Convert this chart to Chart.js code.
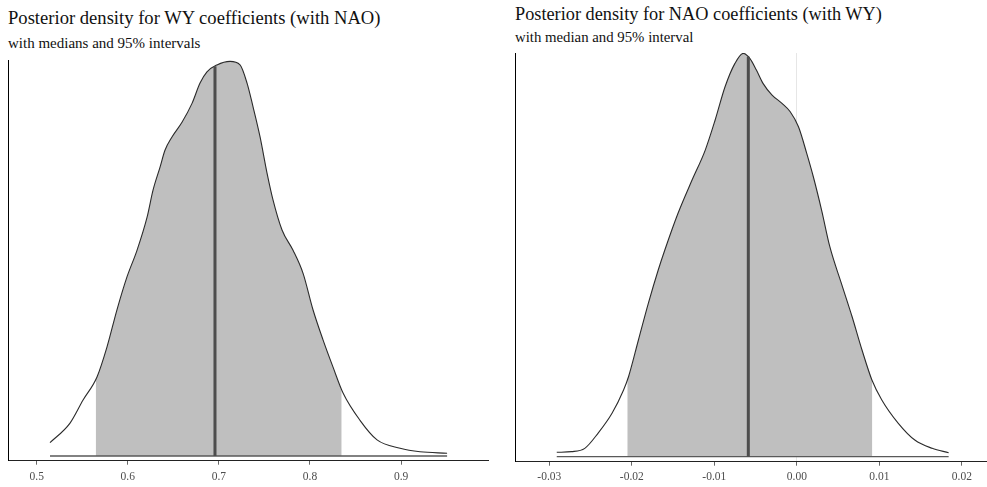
<!DOCTYPE html>
<html>
<head>
<meta charset="utf-8">
<script src="https://cdn.jsdelivr.net/npm/chart.js@4.4.0/dist/chart.umd.min.js"></script>
<style>
  body { margin: 0; background: #fff; width: 987px; height: 487px; position: relative; overflow: hidden; }
  .title { position: absolute; font-family: "Liberation Serif", serif; color: #111; white-space: nowrap; }
  canvas { position: absolute; top: 0; }
</style>
</head>
<body>
<div class="title" style="left:8px; top:9px; font-size:18.6px; line-height:18.6px;">Posterior density for WY coefficients (with NAO)</div>
<div class="title" style="left:8px; top:35.7px; font-size:15px; line-height:15px;">with medians and 95% intervals</div>
<div class="title" style="left:515px; top:5.2px; font-size:18.3px; line-height:18.3px;">Posterior density for NAO coefficients (with WY)</div>
<div class="title" style="left:515px; top:30.3px; font-size:14.8px; line-height:14.8px;">with median and 95% interval</div>
<canvas id="chart-1" width="482" height="490" style="left:8px"></canvas>
<canvas id="chart-2" width="472" height="490" style="left:515px"></canvas>
<script>
// WY coefficient posterior
const wyX = [0.5146, 0.5366, 0.5509, 0.5662, 0.5772, 0.5881, 0.5991, 0.6101, 0.6211, 0.6277,
  0.6354, 0.6408, 0.6485, 0.6595, 0.6705, 0.6793, 0.6869, 0.6979, 0.7122, 0.7232,
  0.7309, 0.7375, 0.7452, 0.7529, 0.7594, 0.7693, 0.7814, 0.7924, 0.8033, 0.8143,
  0.8253, 0.8363, 0.8549, 0.8736, 0.8989, 0.9208, 0.9505];
const wyDensity = [0.19, 0.47, 0.80, 1.13, 1.56, 2.09, 2.56, 2.94, 3.41, 3.80,
  4.13, 4.37, 4.56, 4.77, 5.04, 5.33, 5.49, 5.59, 5.64, 5.59,
  5.33, 4.99, 4.56, 4.04, 3.66, 3.23, 2.94, 2.61, 2.09, 1.66,
  1.27, 0.90, 0.51, 0.23, 0.11, 0.06, 0.04];
const wyInterval = [0.5648, 0.8348];
const wyIntervalDensity = [1.10, 0.93];
const wyMedian = 0.6957;
const wyMedianDensity = 5.57;
const wyTicks = [0.5, 0.6, 0.7, 0.8, 0.9];
const wyTickLabels = ["0.5", "0.6", "0.7", "0.8", "0.9"];

// NAO coefficient posterior
const naoX = [-0.0291, -0.0273, -0.0257, -0.0241, -0.0224, -0.0210, -0.0204, -0.0192, -0.0180, -0.0168,
  -0.0160, -0.0144, -0.0127, -0.0111, -0.0099, -0.0087, -0.0075, -0.0065, -0.0057, -0.0049,
  -0.0041, -0.0030, -0.0018, -0.0008, 0.0002, 0.0012, 0.0020, 0.0030, 0.0040, 0.0054,
  0.0067, 0.0079, 0.0091, 0.0103, 0.0123, 0.0143, 0.0164, 0.0184];
const naoDensity = [0.57, 0.65, 1.08, 3.02, 5.60, 8.61, 10.32, 15.06, 19.79, 24.09,
  26.67, 31.41, 35.70, 39.57, 43.45, 47.74, 50.76, 52.05, 51.41, 49.90,
  48.18, 46.67, 45.60, 44.52, 42.58, 39.15, 36.13, 31.83, 27.10, 22.37,
  18.06, 13.77, 9.90, 7.32, 4.31, 2.15, 1.08, 0.52];
const naoInterval = [-0.02055, 0.00915];
const naoIntervalDensity = [10.1, 9.7];
const naoMedian = -0.00588;
const naoMedianDensity = 51.6;
const naoTicks = [-0.03, -0.02, -0.01, 0.0, 0.01, 0.02];
const naoTickLabels = ["-0.03", "-0.02", "-0.01", "0.00", "0.01", "0.02"];

function toPoints(xs, ys) {
  return xs.map((x, i) => ({ x: x, y: ys[i] }));
}

function shadePoints(xs, ys, interval, intervalDensity) {
  const pts = [{ x: interval[0], y: intervalDensity[0] }];
  xs.forEach((x, i) => {
    if (x > interval[0] && x < interval[1]) pts.push({ x: x, y: ys[i] });
  });
  pts.push({ x: interval[1], y: intervalDensity[1] });
  return pts;
}

function densityChart(ctx, cfg) {
  const curve = toPoints(cfg.xs, cfg.ys);
  return new Chart(ctx, {
    type: "line",
    data: {
      datasets: [
        {
          label: "median",
          data: [{ x: cfg.median, y: 0 }, { x: cfg.median, y: cfg.medianDensity }],
          borderColor: "#4d4d4d",
          borderWidth: 3,
          pointRadius: 0,
          borderCapStyle: "butt",
        },
        {
          label: "density",
          data: curve,
          borderColor: "#2b2b2b",
          borderWidth: 1.1,
          pointRadius: 0,
          cubicInterpolationMode: "monotone",
          fill: false,
        },
        {
          label: "baseline",
          data: [{ x: cfg.xs[0], y: 0 }, { x: cfg.xs[cfg.xs.length - 1], y: 0 }],
          borderColor: "#595959",
          borderWidth: 1.3,
          pointRadius: 0,
        },
        {
          label: "interval",
          data: shadePoints(cfg.xs, cfg.ys, cfg.interval, cfg.intervalDensity),
          borderWidth: 0,
          borderColor: "rgba(0,0,0,0)",
          backgroundColor: "#bfbfbf",
          pointRadius: 0,
          cubicInterpolationMode: "monotone",
          fill: "origin",
        },
      ],
    },
    options: {
      responsive: false,
      animation: false,
      events: [],
      layout: { padding: { top: cfg.top, bottom: cfg.bottom, left: 0, right: cfg.right } },
      plugins: { legend: { display: false }, tooltip: { enabled: false } },
      scales: {
        x: {
          type: "linear",
          min: cfg.min,
          max: cfg.max,
          afterBuildTicks: function (axis) {
            axis.ticks = cfg.ticks.map((v) => ({ value: v }));
          },
          ticks: {
            autoSkip: false,
            maxRotation: 0,
            padding: cfg.labelPad,
            color: "#4d4d4d",
            font: { family: "Liberation Serif", size: 11.5 },
            callback: function (value) {
              const i = cfg.ticks.findIndex((t) => Math.abs(t - value) < 1e-9);
              return i >= 0 ? cfg.tickLabels[i] : "";
            },
          },
          grid: {
            drawOnChartArea: true,
            drawTicks: true,
            tickLength: 4,
            tickColor: "#666666",
            color: function (c) {
              return c.tick && Math.abs(c.tick.value) < 1e-9 ? "#e6e6e6" : "rgba(0,0,0,0)";
            },
          },
          border: { display: true, color: "#222222", width: 1 },
        },
        y: {
          type: "linear",
          min: cfg.ymin,
          max: cfg.ymax,
          ticks: { display: false },
          grid: { display: false, drawTicks: false },
          border: { display: true, color: "#000000", width: 1 },
        },
      },
    },
  });
}

densityChart(document.getElementById("chart-1"), {
  xs: wyX, ys: wyDensity,
  interval: wyInterval, intervalDensity: wyIntervalDensity,
  median: wyMedian, medianDensity: wyMedianDensity,
  ticks: wyTicks, tickLabels: wyTickLabels,
  min: 0.4685, max: 0.9954,
  ymin: -0.067, ymax: 5.66,
  top: 60, bottom: 1.7, right: 2, labelPad: 4.9,
});

densityChart(document.getElementById("chart-2"), {
  xs: naoX, ys: naoDensity,
  interval: naoInterval, intervalDensity: naoIntervalDensity,
  median: naoMedian, medianDensity: naoMedianDensity,
  ticks: naoTicks, tickLabels: naoTickLabels,
  min: -0.03416, max: 0.02305,
  ymin: -0.645, ymax: 52.1,
  top: 53, bottom: 2.7, right: 0, labelPad: 3.9,
});
</script>
</body>
</html>
